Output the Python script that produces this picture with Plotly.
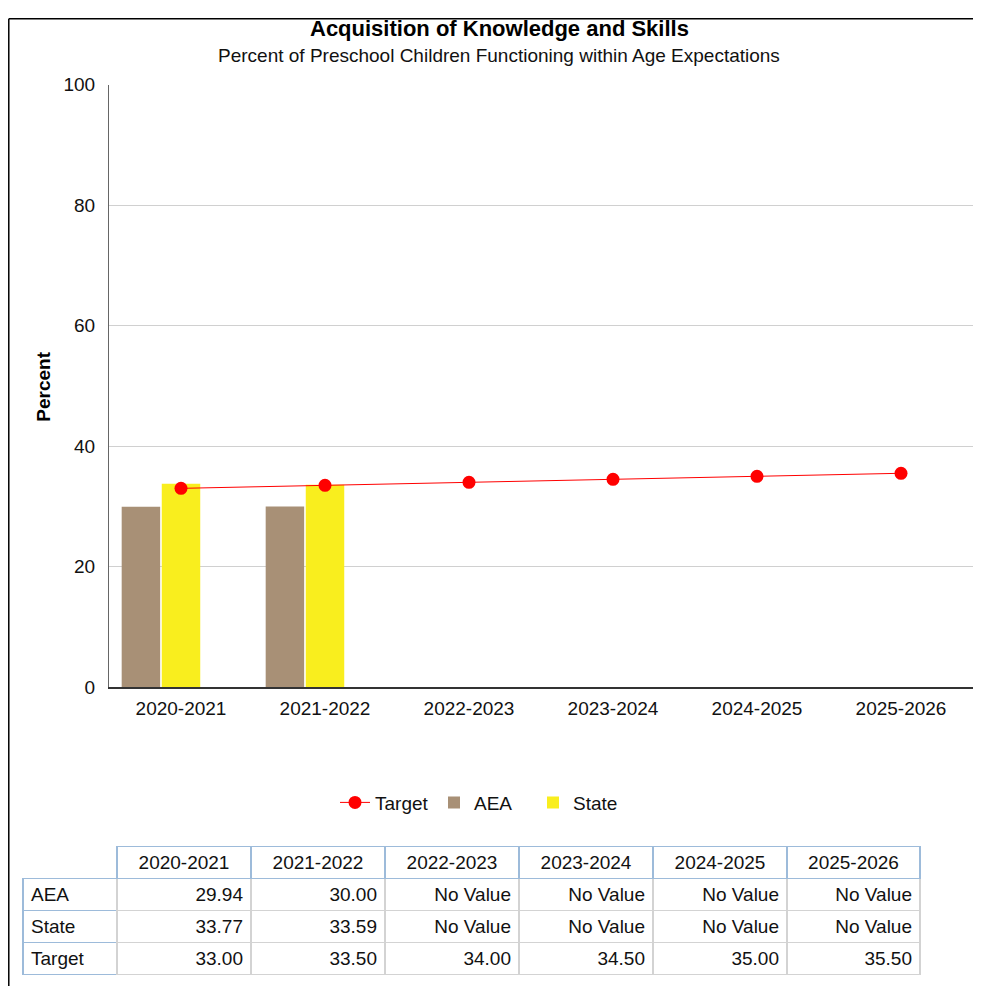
import plotly.graph_objects as go

years = ["2020-2021", "2021-2022", "2022-2023", "2023-2024", "2024-2025", "2025-2026"]
aea = [29.94, 30.00, None, None, None, None]
state = [33.77, 33.59, None, None, None, None]
target = [33.00, 33.50, 34.00, 34.50, 35.00, 35.50]
row_labels = ["AEA", "State", "Target"]
y_ticks = [0, 20, 40, 60, 80, 100]

W, H = 981, 989
FONT = "Liberation Sans, Arial, sans-serif"
AEA_C = "#A89076"
STATE_C = "#F9EE1E"
RED = "#FF0000"
BLUE_L = "#9DBBDA"
GRAY_L = "#D3D3D3"

# page placement of the figure in the viewer (offset / effective height)
OX, OY, EH = 8.0, 15.4, 973.0

def px_x(x):
    return (x - OX) / W

def px_y(y):
    return 1 - (y - OY) / EH

fig = go.Figure()

fig.add_trace(go.Scatter(
    x=years, y=target, name="Target", mode="lines+markers",
    line=dict(color=RED, width=1), marker=dict(color=RED, size=13),
    legendrank=1,
))
fig.add_trace(go.Bar(x=years, y=aea, name="AEA", marker=dict(color=AEA_C, line=dict(width=0)), legendrank=2))
fig.add_trace(go.Bar(x=years, y=state, name="State", marker=dict(color=STATE_C, line=dict(width=0)), legendrank=3))
# empty slot that the original chart reserves for the target series
fig.add_trace(go.Bar(x=years, y=[None] * len(years), showlegend=False, hoverinfo="skip"))

def fmt(v):
    return "No Value" if v is None else f"{v:.2f}"

cols = [row_labels] + [[fmt(aea[i]), fmt(state[i]), fmt(target[i])] for i in range(len(years))]
fig.add_trace(go.Table(
    domain=dict(x=[px_x(23), px_x(920)], y=[px_y(980), px_y(848)]),
    columnwidth=[94] + [134] * (len(years) - 1) + [133],
    header=dict(
        values=[""] + years,
        height=32,
        align="center",
        fill=dict(color="white"),
        line=dict(color=[BLUE_L] * (len(years) + 1), width=[0] + [1.5] * len(years)),
        font=dict(family=FONT, size=19, color="#111"),
    ),
    cells=dict(
        values=cols,
        height=32,
        align=["left"] + ["right"] * len(years),
        fill=dict(color="white"),
        line=dict(color=[BLUE_L] + [GRAY_L] * len(years), width=1.5),
        font=dict(family=FONT, size=19, color="#111"),
    ),
))

fig.update_layout(
    width=W, height=H,
    margin=dict(l=0, r=0, t=0, b=0),
    paper_bgcolor="white", plot_bgcolor="white",
    font=dict(family=FONT, size=19, color="#111"),
    barmode="group", bargap=0.165, bargroupgap=0.04,
    showlegend=True,
    legend=dict(
        orientation="h", x=px_x(335), xanchor="left", y=px_y(804), yanchor="middle",
        font=dict(family=FONT, size=19, color="#111"), traceorder="normal",
        entrywidth=54, entrywidthmode="pixels",
    ),
    xaxis=dict(
        domain=[px_x(109), px_x(973)],
        showline=True, linecolor="#333", linewidth=2,
        showgrid=False, ticks="outside", ticklen=3, tickcolor="white",
        tickfont=dict(family=FONT, size=19, color="#111"),
    ),
    yaxis=dict(
        domain=[px_y(688), px_y(82.5)],
        range=[0, 100], tickvals=y_ticks,
        showline=True, linecolor="#666", linewidth=1,
        showgrid=True, gridcolor="#D0D0D0", gridwidth=1,
        zeroline=False,
        ticks="outside", ticklen=9, tickcolor="white",
        tickfont=dict(family=FONT, size=19, color="#111"),
    ),
    annotations=[
        dict(text="<b>Acquisition of Knowledge and Skills</b>", x=px_x(499), y=px_y(25.5),
             xref="paper", yref="paper", showarrow=False, xanchor="center", yanchor="middle",
             font=dict(family=FONT, size=22, color="#000")),
        dict(text="Percent of Preschool Children Functioning within Age Expectations", x=px_x(498.5), y=px_y(53.5),
             xref="paper", yref="paper", showarrow=False, xanchor="center", yanchor="middle",
             font=dict(family=FONT, size=19, color="#111")),
        dict(text="<b>Percent</b>", x=px_x(44), y=px_y(386), textangle=-90,
             xref="paper", yref="paper", showarrow=False, xanchor="center", yanchor="middle",
             font=dict(family=FONT, size=19, color="#000")),
    ],
    shapes=[
        dict(type="line", xref="paper", yref="paper", x0=0.0008, x1=1, y0=0.9992, y1=0.9992,
             line=dict(color="#000", width=1.5)),
        dict(type="line", xref="paper", yref="paper", x0=0.0008, x1=0.0008, y0=0, y1=0.9992,
             line=dict(color="#000", width=1.5)),
    ],
)

fig.write_html("out.html")
